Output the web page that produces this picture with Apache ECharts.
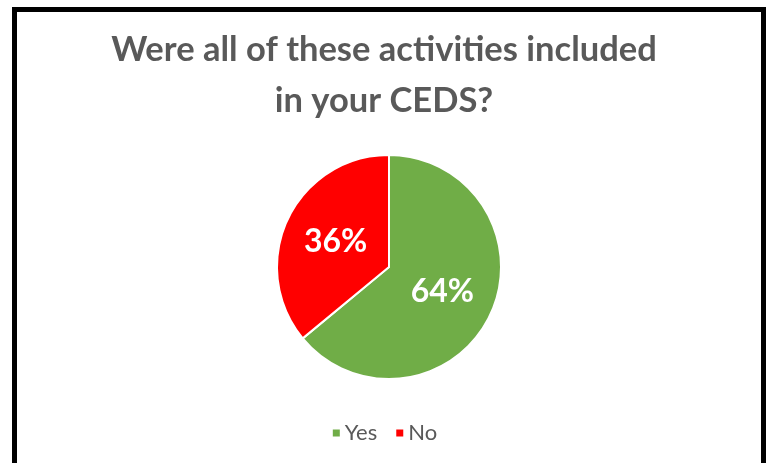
<!DOCTYPE html>
<html>
<head>
<meta charset="utf-8">
<script src="https://cdn.jsdelivr.net/npm/echarts@6/dist/echarts.min.js"></script>
<style>
  html, body { margin: 0; padding: 0; background: #fff; }
  #chart { width: 768px; height: 463px; }
  .frame {
    position: absolute; left: 12px; top: 7px;
    width: 744px; height: 480px;
    border: 5px solid #000; pointer-events: none;
  }
</style>
</head>
<body>
<div id="chart"></div>
<div class="frame"></div>
<script>
const titleText = 'Were all of these activities included\nin your CEDS?'
const categories = ['Yes', 'No']
const shares = [64, 36]
const colors = ['#70AD47', '#FF0000']

const TXT = '#595959'

const chart = echarts.init(document.getElementById('chart'))
chart.setOption({
  animation: false,
  title: {
    text: titleText,
    left: 'center',
    top: 19,
    textStyle: {
      fontFamily: 'Lato',
      fontWeight: 'bold',
      fontSize: 34.5,
      lineHeight: 51,
      color: TXT,
    },
  },
  legend: {
    bottom: 14,
    left: 'center',
    itemWidth: 9,
    itemHeight: 9,
    itemGap: 17,
    icon: 'rect',
    textStyle: { fontFamily: 'Lato', fontSize: 22, color: TXT, padding: [0, 0, 0, -1] },
    data: categories,
  },
  series: [
    {
      type: 'pie',
      center: [389, 267],
      radius: 112,
      startAngle: 90,
      clockwise: true,
      itemStyle: { borderColor: '#fff', borderWidth: 2 },
      label: {
        position: 'inside',
        formatter: '{c}%',
        fontFamily: 'Lato',
        fontWeight: 'bold',
        fontSize: 32,
        color: '#fff',
      },
      data: categories.map((name, i) => ({
        name,
        value: shares[i],
        itemStyle: { color: colors[i] },
      })),
    },
  ],
})
</script>
</body>
</html>
